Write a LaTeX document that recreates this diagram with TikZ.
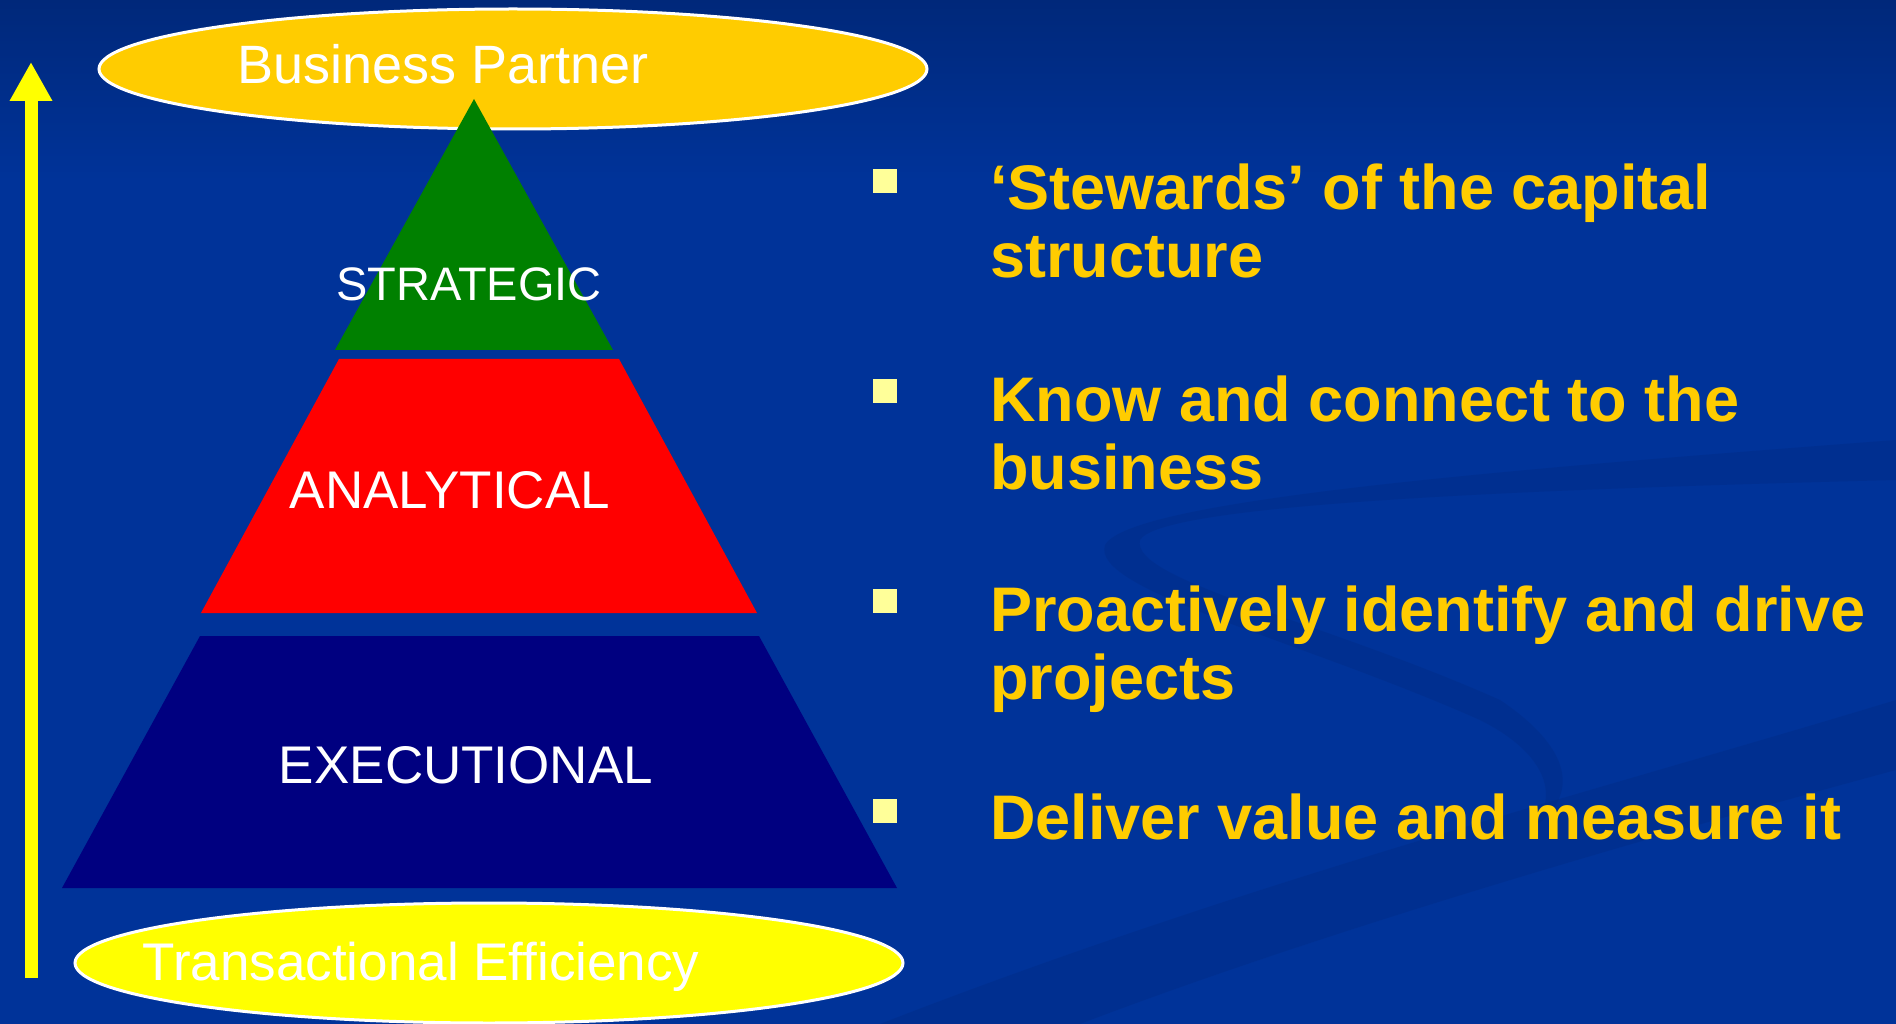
\documentclass[tikz,border=0pt]{standalone}
\usepackage{fontspec}
\setmainfont{Liberation Sans}
\usetikzlibrary{shapes.geometric,arrows.meta}
\definecolor{bgblue}{HTML}{003399}
\definecolor{bgtop}{HTML}{00287A}
\definecolor{swoosh}{HTML}{002A80}
\definecolor{gold}{HTML}{FFCC00}
\definecolor{lemon}{HTML}{FFFF00}
\definecolor{leaf}{HTML}{008000}
\definecolor{navyfill}{HTML}{000080}
\definecolor{bulletcol}{HTML}{FFFF99}
\tikzset{
  oval/.style={ellipse, draw=white, line width=3pt, inner sep=0pt},
  tiertext/.style={text=white, anchor=base, inner sep=0pt},
  pointtext/.style={text=gold, anchor=base west, inner sep=0pt, align=left,
    font=\fontsize{63}{68}\selectfont\bfseries},
  bulletbox/.style={fill=bulletcol, draw=none, minimum width=24pt, minimum height=24pt, inner sep=0pt}
}
\begin{document}
\begin{tikzpicture}[x=1pt,y=-1pt]
% background
\fill[bgblue] (0,0) rectangle (1896,1024);
\shade[top color=bgtop, bottom color=bgblue] (0,0) rectangle (1896,180);
\useasboundingbox (0,0) rectangle (1896,1024);
% faint swooshes
\begin{scope}[fill=swoosh, opacity=0.35]
\fill (880,1024) .. controls (1250,880) and (1600,790) .. (1896,700) -- (1896,770) .. controls (1600,850) and (1300,940) .. (1080,1024) -- cycle;
\fill (1896,440) .. controls (1500,470) and (1130,500) .. (1105,545) .. controls (1090,590) and (1300,640) .. (1480,720) .. controls (1550,755) and (1560,800) .. (1530,830) .. controls (1590,790) and (1560,740) .. (1500,700) .. controls (1320,620) and (1130,580) .. (1140,540) .. controls (1160,505) and (1500,490) .. (1896,480) -- cycle;
\end{scope}
% arrow
\coordinate (arrowfoot) at (31,978);
\coordinate (arrowtip) at (31,62);
\draw[lemon, line width=13pt, -{Triangle[width=40pt,length=39pt]}] (arrowfoot) -- (arrowtip);
% top ellipse
\node[oval, fill=gold, minimum width=828pt, minimum height=120pt] (bp) at (513,69) {};
\node[tiertext, font=\fontsize{54}{60}\selectfont] (bptext) at (443,84) {Business Partner};
% pyramid
\fill[leaf] (474,99) -- (613,350) -- (335,350) -- cycle;
\fill[red] (339,359) -- (619,359) -- (757,613) -- (201,613) -- cycle;
\fill[navyfill] (200,636) -- (759,636) -- (897,888) -- (62,888) -- cycle;
\node[tiertext, font=\fontsize{47}{52}\selectfont] (strat) at (469,301) {STRATEGIC};
\node[tiertext, font=\fontsize{53}{58}\selectfont] (anal) at (450,508) {ANALYTICAL};
\node[tiertext, font=\fontsize{53}{58}\selectfont] (exec) at (466,783) {EXECUTIONAL};
% bottom ellipse
\node[oval, fill=lemon, minimum width=828pt, minimum height=120pt] (te) at (489,963) {};
\node[tiertext, font=\fontsize{53}{58}\selectfont] (tetext) at (421,980) {Transactional Efficiency};
% bullets
\node[bulletbox] (b1) at (885,181) {};
\node[bulletbox] (b2) at (885,391) {};
\node[bulletbox] (b3) at (885,601) {};
\node[bulletbox] (b4) at (885,811) {};
% (base anchor of a two-line node is the baseline of its last line)
\node[pointtext] (t1) at (990,278) {‘Stewards’ of the capital\\structure};
\node[pointtext] (t2) at (990,489) {Know and connect to the\\business};
\node[pointtext] (t3) at (990,699) {Proactively identify and drive\\projects};
\node[pointtext] (t4) at (990,839) {Deliver value and measure it};
\end{tikzpicture}
\end{document}
